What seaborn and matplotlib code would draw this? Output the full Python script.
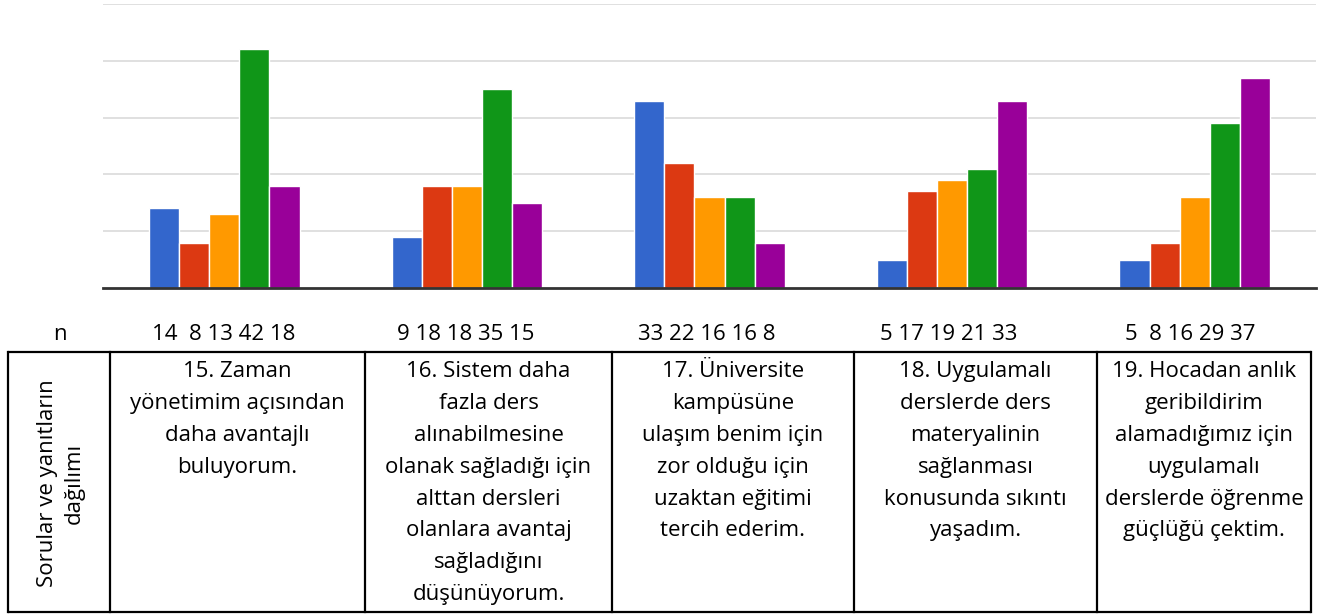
import pandas as pd
import matplotlib
matplotlib.use('Agg')
import matplotlib.pyplot as plt
import seaborn as sns

# data
questions = ['15', '16', '17', '18', '19']
levels = ['Kesinlikle katılmıyorum', 'Katılmıyorum', 'Kararsızım',
          'Katılıyorum', 'Kesinlikle katılıyorum']
counts = [
    [14, 8, 13, 42, 18],
    [9, 18, 18, 35, 15],
    [33, 22, 16, 16, 8],
    [5, 17, 19, 21, 33],
    [5, 8, 16, 29, 37],
]
n_labels = ['14  8 13 42 18', '9 18 18 35 15', '33 22 16 16 8',
            '5 17 19 21 33', '5  8 16 29 37']
question_texts = [
    '15. Zaman\nyönetimim açısından\ndaha avantajlı\nbuluyorum.',
    '16. Sistem daha\nfazla ders\nalınabilmesine\nolanak sağladığı için\nalttan dersleri\nolanlara avantaj\nsağladığını\ndüşünüyorum.',
    '17. Üniversite\nkampüsüne\nulaşım benim için\nzor olduğu için\nuzaktan eğitimi\ntercih ederim.',
    '18. Uygulamalı\nderslerde ders\nmateryalinin\nsağlanması\nkonusunda sıkıntı\nyaşadım.',
    '19. Hocadan anlık\ngeribildirim\nalamadığımız için\nuygulamalı\nderslerde öğrenme\ngüçlüğü çektim.',
]
row_label = 'Sorular ve yanıtların\ndağılımı'
colors = ['#3366cc', '#dc3912', '#ff9900', '#109618', '#990099']

rows = []
for q, vals in zip(questions, counts):
    for lev, v in zip(levels, vals):
        rows.append({'soru': q, 'yanit': lev, 'n': v})
df = pd.DataFrame(rows)

sns.set_style('white')
plt.rcParams['font.family'] = ['Open Sans', 'DejaVu Sans']
plt.rcParams['text.color'] = 'black'

W, H = 1332, 614
fig = plt.figure(figsize=(W / 100, H / 100), dpi=100)

# bar chart area (pixel box 103..1316 x 4..288)
ax = fig.add_axes([103 / W, 1 - 288 / H, 1213 / W, 284 / H])
sns.barplot(data=df, x='soru', y='n', hue='yanit', hue_order=levels,
            palette=colors, width=0.62, edgecolor='white', linewidth=1,
            saturation=1, legend=False, ax=ax)
ax.set_ylim(0, 50)
ax.set_xlim(-0.5, 4.5)
ax.set_yticks([10, 20, 30, 40, 50])
ax.yaxis.grid(True, color='#dddddd', linewidth=1.3)
ax.set_axisbelow(True)
ax.set_xticks([])
ax.set_yticklabels([])
ax.tick_params(left=False, bottom=False)
ax.set_xlabel('')
ax.set_ylabel('')
for s in ['left', 'right', 'top']:
    ax.spines[s].set_visible(False)
ax.spines['bottom'].set_color('#333333')
ax.spines['bottom'].set_linewidth(2)

# table below the chart, in pixel coordinates
tab = fig.add_axes([0, 0, 1, 1])
tab.set_xlim(0, W)
tab.set_ylim(H, 0)
tab.axis('off')

col_edges = [8, 110, 365, 612, 854, 1097, 1311]
top, bottom = 352, 612
fs = 16

tab.text(60, 334, 'n', ha='center', va='center', fontsize=fs)
centers = [224, 466, 707, 949, 1190]
for c, label in zip(centers, n_labels):
    tab.text(c, 334, label, ha='center', va='center', fontsize=fs)

for x in col_edges:
    tab.plot([x, x], [top, bottom], color='black', lw=1.6, solid_capstyle='projecting')
for y in [top, bottom]:
    tab.plot([col_edges[0], col_edges[-1]], [y, y], color='black', lw=1.6)

tab.text(61, 483, row_label, rotation=90, ha='center',
         va='center', fontsize=fs, linespacing=1.35)
for i, txt in enumerate(question_texts):
    cx = (col_edges[i + 1] + col_edges[i + 2]) / 2
    tab.text(cx, 361, txt, ha='center', va='top', fontsize=fs, linespacing=1.68)

fig.savefig('out.png', dpi=100)
